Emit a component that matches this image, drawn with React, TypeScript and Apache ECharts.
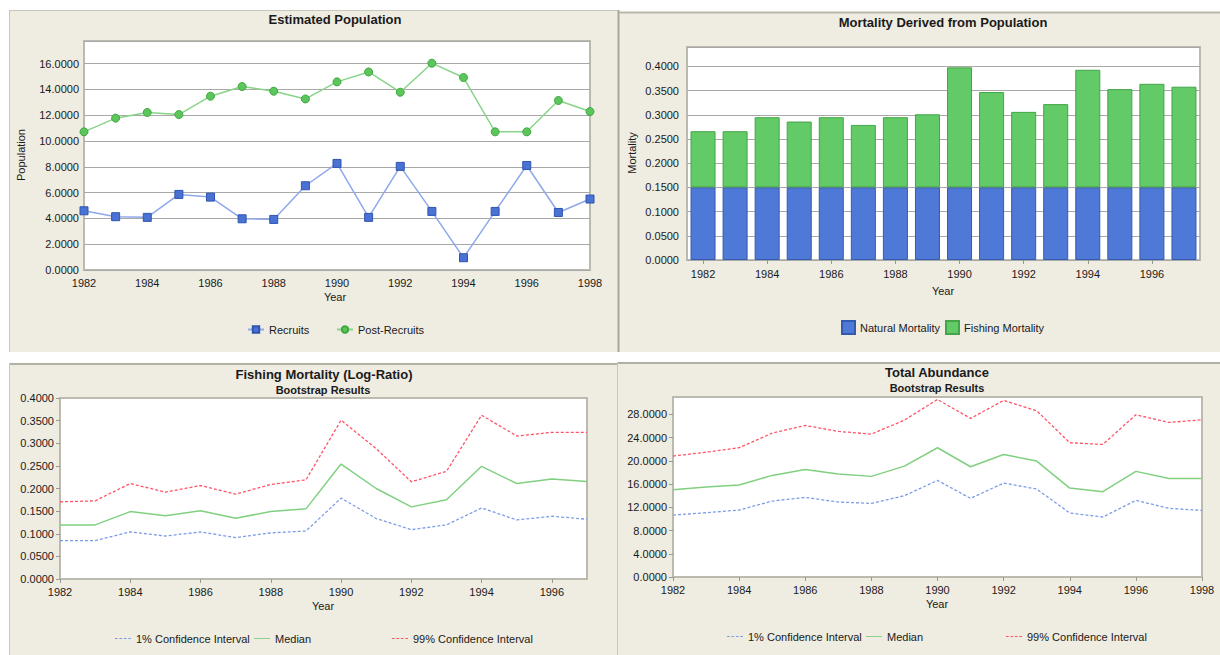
import React, { useEffect, useRef } from 'react';
import * as echarts from 'echarts';

// ---------- data ----------
const popYears = [1982, 1983, 1984, 1985, 1986, 1987, 1988, 1989, 1990, 1991, 1992, 1993, 1994, 1995, 1996, 1997, 1998];
const recruits = [4.59, 4.13, 4.08, 5.86, 5.65, 3.97, 3.92, 6.53, 8.26, 4.08, 8.03, 4.54, 0.95, 4.54, 8.10, 4.46, 5.50];
const postRecruits = [10.71, 11.77, 12.21, 12.05, 13.47, 14.22, 13.86, 13.26, 14.58, 15.35, 13.78, 16.03, 14.92, 10.71, 10.71, 13.14, 12.28];

const barYears = ['1982', '1983', '1984', '1985', '1986', '1987', '1988', '1989', '1990', '1991', '1992', '1993', '1994', '1995', '1996', '1997'];
const naturalMortality = [0.15, 0.15, 0.15, 0.15, 0.15, 0.15, 0.15, 0.15, 0.15, 0.15, 0.15, 0.15, 0.15, 0.15, 0.15, 0.15];
const fishingMortality = [0.116, 0.116, 0.145, 0.136, 0.145, 0.129, 0.145, 0.151, 0.248, 0.197, 0.156, 0.172, 0.243, 0.203, 0.214, 0.208];

const fmYears = [1982, 1983, 1984, 1985, 1986, 1987, 1988, 1989, 1990, 1991, 1992, 1993, 1994, 1995, 1996, 1997];
const fmLow = [0.085, 0.085, 0.104, 0.095, 0.104, 0.0915, 0.102, 0.106, 0.1786, 0.1336, 0.109, 0.1196, 0.157, 0.1306, 0.1387, 0.132];
const fmMedian = [0.1196, 0.1196, 0.149, 0.140, 0.1506, 0.1343, 0.149, 0.155, 0.254, 0.200, 0.1594, 0.175, 0.249, 0.211, 0.221, 0.2155];
const fmHigh = [0.1705, 0.1727, 0.211, 0.192, 0.2066, 0.1875, 0.2089, 0.219, 0.351, 0.288, 0.2148, 0.238, 0.362, 0.316, 0.324, 0.324];

const taYears = [1982, 1983, 1984, 1985, 1986, 1987, 1988, 1989, 1990, 1991, 1992, 1993, 1994, 1995, 1996, 1997, 1998];
const taLow = [10.67, 11.07, 11.53, 13.08, 13.71, 12.91, 12.68, 14.0, 16.64, 13.54, 16.18, 15.15, 11.02, 10.33, 13.2, 11.82, 11.47];
const taMedian = [15.03, 15.49, 15.83, 17.5, 18.53, 17.73, 17.33, 19.1, 22.26, 18.99, 21.11, 19.97, 15.32, 14.69, 18.19, 16.98, 16.98];
const taHigh = [20.83, 21.5, 22.26, 24.78, 26.1, 25.07, 24.61, 27.02, 30.58, 27.31, 30.41, 28.63, 23.12, 22.83, 27.94, 26.62, 27.08];

// ---------- styles ----------
const FONT = "'Liberation Sans', Arial, sans-serif";
const BEIGE = '#efece1';
const TXT = '#1a1a1a';
const BLUE_LINE = '#8ea8ea';
const GREEN_LINE = '#88d488';
const CI_BLUE = '#7d9ce8';
const CI_GREEN = '#80d080';
const CI_RED = '#ff5468';
const DASH_ICON = 'path://M0,0h3v1h-3z M5,0h3v1h-3z M10,0h3v1h-3z M15,0h3v1h-3z';
const SOLID_ICON = 'path://M0,0h18v1h-18z';

const pairs = (xs: number[], ys: number[]) => xs.map((x, i) => [x, ys[i]]);

const labelStyle = (extra: any = {}) => ({ color: TXT, fontSize: 11, fontFamily: FONT, ...extra });

const gridBox = (left: number, top: number, width: number, height: number) => ({
  left, top, width, height, show: true, backgroundColor: '#ffffff', borderColor: '#bcbaae', borderWidth: 2,
});

const yearAxis = (gridIndex: number, min: number, max: number, showTicks: boolean, margin: number) => ({
  type: 'value', gridIndex, min, max, interval: 2,
  axisLine: { show: false },
  axisTick: { show: showTicks, length: 4, lineStyle: { color: '#999' } },
  splitLine: { show: false },
  axisLabel: { ...labelStyle(), margin, showMaxLabel: max % 2 === 0, formatter: (v: number) => String(v) },
});

const valueAxis = (gridIndex: number, max: number, interval: number, split: boolean, margin: number, showTicks: boolean, showMax: boolean) => ({
  type: 'value', gridIndex, min: 0, max, interval,
  axisLine: { show: false },
  axisTick: { show: showTicks, length: 4, lineStyle: { color: '#999' } },
  splitLine: { show: split, lineStyle: { color: '#a8a8a8', width: 1 } },
  axisLabel: { ...labelStyle(), margin, showMaxLabel: showMax, formatter: (v: number) => v.toFixed(4) },
});

const ciSeries = (name: string, xi: number, xs: number[], ys: number[], color: string, dashed: boolean) => ({
  name, type: 'line', xAxisIndex: xi, yAxisIndex: xi, data: pairs(xs, ys), symbol: 'none',
  itemStyle: { color },
  lineStyle: { color, width: dashed ? 1.3 : 1.5, type: dashed ? [3, 2] : 'solid' },
});

const legendItem = (name: string, left: number, top: number, icon?: string, w = 16, h = 8) => ({
  data: [name], left, top, padding: 0, itemWidth: w, itemHeight: h, itemGap: 0,
  icon, textStyle: labelStyle(), selectedMode: false,
});

const text = (t: string, x: number, y: number, font: string, rotation = 0) => ({
  type: 'text', x, y, rotation,
  style: { text: t, font, fill: TXT, textAlign: 'center', textVerticalAlign: 'middle' },
});

const rect = (x: number, y: number, w: number, h: number) => ({
  type: 'rect', z: -10, shape: { x, y, width: w, height: h }, style: { fill: BEIGE },
});
const line = (x1: number, y1: number, x2: number, y2: number, color: string, width: number) => ({
  type: 'line', z: -5, shape: { x1, y1, x2, y2 }, style: { stroke: color, lineWidth: width },
});

export default function App() {
  const ref = useRef<HTMLDivElement>(null);

  useEffect(() => {
    if (!ref.current) return;
    const chart = echarts.init(ref.current, undefined, { renderer: 'svg' });
    const titleFont = `bold 13px ${FONT}`;
    const subFont = `bold 11px ${FONT}`;
    const axFont = `11px ${FONT}`;

    chart.setOption({
      animation: false,
      backgroundColor: '#ffffff',
      textStyle: { fontFamily: FONT },
      graphic: {
        elements: [
          rect(9, 10, 609, 342),
          rect(619, 12, 601, 340),
          rect(9, 363, 608, 292),
          rect(618, 362, 602, 293),
          line(9, 10.5, 618, 10.5, '#c9c7ba', 1),
          line(9.5, 10, 9.5, 352, '#c9c7ba', 1),
          line(618.5, 10, 618.5, 352, '#aaa89a', 2),
          line(619, 12.5, 1220, 12.5, '#b9b7a9', 2),
          line(9, 364, 617, 364, '#b3b1a3', 2),
          line(9.5, 363, 9.5, 655, '#c9c7ba', 1),
          line(618, 363, 1220, 363, '#b3b1a3', 2),
          line(617.5, 362, 617.5, 655, '#c9c7ba', 1),
          text('Estimated Population', 335, 19, titleFont),
          text('Mortality Derived from Population', 943, 22, titleFont),
          text('Fishing Mortality (Log-Ratio)', 324, 374, titleFont),
          text('Bootstrap Results', 323, 390, subFont),
          text('Total Abundance', 937, 372, titleFont),
          text('Bootstrap Results', 937, 388, subFont),
          text('Population', 21, 155, axFont, Math.PI / 2),
          text('Mortality', 632, 153, axFont, Math.PI / 2),
          text('Year', 335, 297, axFont),
          text('Year', 943, 291, axFont),
          text('Year', 323, 606, axFont),
          text('Year', 937, 604, axFont),
        ],
      },
      grid: [
        gridBox(84, 41, 506, 229),
        gridBox(687, 47, 513, 213),
        gridBox(60, 398, 527, 181),
        gridBox(673, 397, 529, 180),
      ],
      xAxis: [
        yearAxis(0, 1982, 1998, false, 7),
        {
          type: 'category', gridIndex: 1, data: barYears,
          axisLine: { show: false },
          axisTick: { show: true, alignWithLabel: true, interval: 1, length: 4, lineStyle: { color: '#999' } },
          axisLabel: { ...labelStyle(), interval: 1, margin: 8 },
        },
        yearAxis(2, 1982, 1997, true, 7),
        yearAxis(3, 1982, 1998, true, 7),
      ],
      yAxis: [
        valueAxis(0, 17.75, 2, true, 5, false, false),
        valueAxis(1, 0.44, 0.05, true, 8, false, false),
        valueAxis(2, 0.4, 0.05, false, 6, true, true),
        valueAxis(3, 31, 4, false, 6, true, false),
      ],
      legend: [
        legendItem('Recruits', 247, 324),
        legendItem('Post-Recruits', 336, 324),
        legendItem('Natural Mortality', 841, 320, 'rect', 13, 13),
        legendItem('Fishing Mortality', 945, 320, 'rect', 13, 13),
        legendItem('1% Confidence Interval', 115, 633, DASH_ICON, 16, 1.5),
        legendItem('Median', 254, 633, SOLID_ICON, 16, 1.5),
        legendItem('99% Confidence Interval', 392, 633, DASH_ICON, 16, 1.5),
        legendItem('1% Confidence Interval', 727, 631, DASH_ICON, 16, 1.5),
        legendItem('Median', 866, 631, SOLID_ICON, 16, 1.5),
        legendItem('99% Confidence Interval', 1006, 631, DASH_ICON, 16, 1.5),
      ],
      series: [
        {
          name: 'Recruits', type: 'line', xAxisIndex: 0, yAxisIndex: 0, data: pairs(popYears, recruits),
          symbol: 'rect', symbolSize: 8,
          itemStyle: { color: '#4a72d4', borderColor: '#2f55b0', borderWidth: 1 },
          lineStyle: { color: BLUE_LINE, width: 1.5 },
        },
        {
          name: 'Post-Recruits', type: 'line', xAxisIndex: 0, yAxisIndex: 0, data: pairs(popYears, postRecruits),
          symbol: 'circle', symbolSize: 8,
          itemStyle: { color: '#5cc65c', borderColor: '#3fa73f', borderWidth: 1 },
          lineStyle: { color: GREEN_LINE, width: 1.5 },
        },
        {
          name: 'Natural Mortality', type: 'bar', xAxisIndex: 1, yAxisIndex: 1, stack: 'm', data: naturalMortality,
          barCategoryGap: '22%',
          itemStyle: { color: '#4f79d6', borderColor: '#3659b0', borderWidth: 1 },
        },
        {
          name: 'Fishing Mortality', type: 'bar', xAxisIndex: 1, yAxisIndex: 1, stack: 'm', data: fishingMortality,
          barCategoryGap: '22%',
          itemStyle: { color: '#62ca66', borderColor: '#44a548', borderWidth: 1 },
        },
        ciSeries('1% Confidence Interval', 2, fmYears, fmLow, CI_BLUE, true),
        ciSeries('Median', 2, fmYears, fmMedian, CI_GREEN, false),
        ciSeries('99% Confidence Interval', 2, fmYears, fmHigh, CI_RED, true),
        ciSeries('1% Confidence Interval', 3, taYears, taLow, CI_BLUE, true),
        ciSeries('Median', 3, taYears, taMedian, CI_GREEN, false),
        ciSeries('99% Confidence Interval', 3, taYears, taHigh, CI_RED, true),
      ],
    });
    return () => chart.dispose();
  }, []);

  return (
    <div
      ref={ref}
      style={{ position: 'fixed', left: 0, top: 0, width: 1220, height: 655, background: '#fff' }}
    />
  );
}
